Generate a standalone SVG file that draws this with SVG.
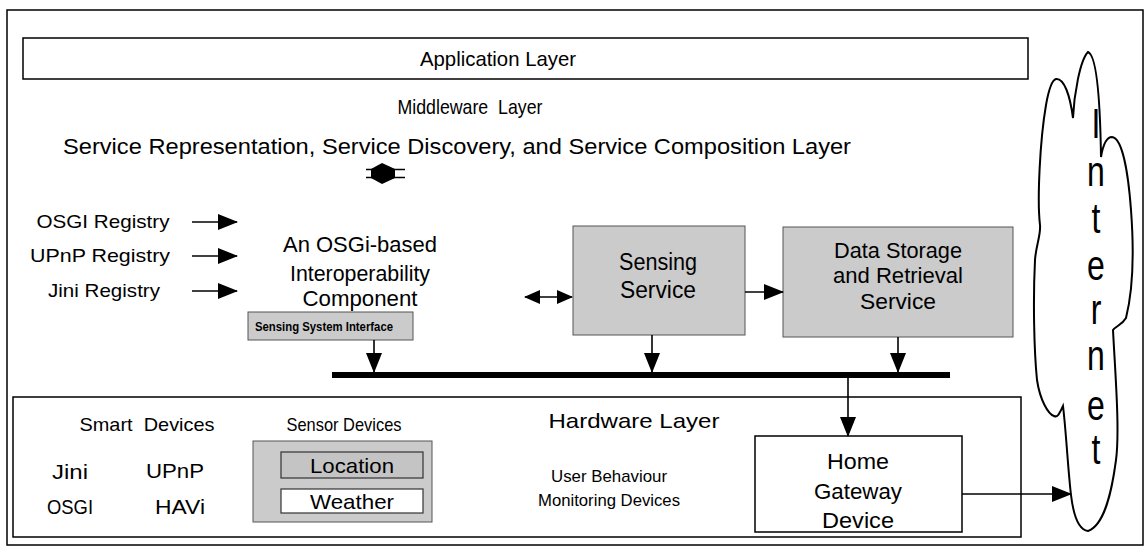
<svg xmlns="http://www.w3.org/2000/svg" width="1146" height="548" viewBox="0 0 1146 548">
<style>
text{font-family:"Liberation Sans",Arial,sans-serif;fill:#000}
.box{fill:none;stroke:#000;stroke-width:1.5}
.gray{fill:#cbcbcb;stroke:#555;stroke-width:1}
.ln{stroke:#000;stroke-width:1.6;fill:none}
.c{text-anchor:middle}
</style>
<defs>
<marker id="ah" markerWidth="20" markerHeight="16" refX="19" refY="8" orient="auto" markerUnits="userSpaceOnUse">
<path d="M0,0 L20,8 L0,16 Z" fill="#000"/>
</marker>
<marker id="ahs" markerWidth="16" markerHeight="14" refX="15" refY="7" orient="auto-start-reverse" markerUnits="userSpaceOnUse">
<path d="M0,0 L16,7 L0,14 Z" fill="#000"/>
</marker>
</defs>
<rect x="0" y="0" width="1146" height="548" fill="#fff"/>
<rect id="frame" x="7" y="10" width="1136" height="535" class="box"/>

<g id="app-layer">
<rect x="23" y="38" width="1005" height="41" class="box"/>
<text x="498" y="66" font-size="21" class="c" textLength="156" lengthAdjust="spacingAndGlyphs">Application Layer</text>
</g>

<g id="middleware-labels">
<text x="470" y="114" font-size="21" class="c" xml:space="preserve" textLength="145" lengthAdjust="spacingAndGlyphs">Middleware  Layer</text>
<text x="457" y="154" font-size="22" class="c" textLength="788" lengthAdjust="spacingAndGlyphs">Service Representation, Service Discovery, and Service Composition Layer</text>
</g>

<g id="updown-icon">
<polygon points="371,169 382,163 395,169 395,178 382,184 371,178" fill="#000"/>
<line x1="366" y1="169.5" x2="405" y2="169.5" stroke="#000" stroke-width="1.5"/>
<line x1="366" y1="177.5" x2="405" y2="177.5" stroke="#000" stroke-width="1.5"/>
</g>

<g id="registries">
<text x="103" y="228" font-size="19" class="c" textLength="133" lengthAdjust="spacingAndGlyphs">OSGI Registry</text>
<text x="100" y="262" font-size="19" class="c" textLength="140" lengthAdjust="spacingAndGlyphs">UPnP Registry</text>
<text x="104" y="297" font-size="19" class="c" textLength="112" lengthAdjust="spacingAndGlyphs">Jini Registry</text>
</g>

<g id="interop">
<text x="360" y="252" font-size="22" class="c" textLength="154" lengthAdjust="spacingAndGlyphs">An OSGi-based</text>
<text x="360" y="281" font-size="22" class="c" textLength="140" lengthAdjust="spacingAndGlyphs">Interoperability</text>
<text x="360" y="306" font-size="22" class="c" textLength="115" lengthAdjust="spacingAndGlyphs">Component</text>
</g>

<g id="ssi">
<rect x="248" y="312" width="165" height="28" class="gray"/>
<text x="324" y="331" font-size="13" font-weight="bold" class="c" textLength="138" lengthAdjust="spacingAndGlyphs">Sensing System Interface</text>
</g>

<g id="sensing-service">
<rect x="573" y="226" width="172" height="109" class="gray"/>
<text x="658" y="270" font-size="23" class="c" textLength="78" lengthAdjust="spacingAndGlyphs">Sensing</text>
<text x="658" y="298" font-size="23" class="c" textLength="76" lengthAdjust="spacingAndGlyphs">Service</text>
</g>

<g id="data-storage">
<rect x="783" y="227" width="230" height="110" class="gray"/>
<text x="898" y="258" font-size="22" class="c" textLength="128" lengthAdjust="spacingAndGlyphs">Data Storage</text>
<text x="898" y="283" font-size="22" class="c" textLength="130" lengthAdjust="spacingAndGlyphs">and Retrieval</text>
<text x="898" y="309" font-size="22" class="c" textLength="76" lengthAdjust="spacingAndGlyphs">Service</text>
</g>

<g id="bus">
<rect x="332" y="372" width="618" height="6" fill="#000"/>
</g>

<g id="hardware-layer">
<rect x="13" y="397" width="1008" height="140" class="box"/>
<text x="634" y="428" font-size="21" class="c" textLength="171" lengthAdjust="spacingAndGlyphs">Hardware Layer</text>
<text x="609" y="482" font-size="17" class="c" textLength="116" lengthAdjust="spacingAndGlyphs">User Behaviour</text>
<text x="609" y="506" font-size="17" class="c" textLength="142" lengthAdjust="spacingAndGlyphs">Monitoring Devices</text>
</g>

<g id="smart-devices">
<text x="147" y="431" font-size="19" class="c" xml:space="preserve" textLength="135" lengthAdjust="spacingAndGlyphs">Smart  Devices</text>
<text x="70" y="479" font-size="20" class="c" textLength="36" lengthAdjust="spacingAndGlyphs">Jini</text>
<text x="175" y="478" font-size="20" class="c" textLength="58" lengthAdjust="spacingAndGlyphs">UPnP</text>
<text x="70" y="514" font-size="20" class="c" textLength="46" lengthAdjust="spacingAndGlyphs">OSGI</text>
<text x="180" y="514" font-size="20" class="c" textLength="50" lengthAdjust="spacingAndGlyphs">HAVi</text>
</g>

<g id="sensor-devices">
<text x="344" y="431" font-size="19" class="c" textLength="115" lengthAdjust="spacingAndGlyphs">Sensor Devices</text>
<rect x="253" y="441" width="179" height="81" class="gray"/>
<rect x="281" y="452" width="142" height="26" fill="#c4c4c4" stroke="#333" stroke-width="1.2"/>
<text x="352" y="473" font-size="21" class="c" textLength="84" lengthAdjust="spacingAndGlyphs">Location</text>
<rect x="281" y="489" width="142" height="24" fill="#fff" stroke="#333" stroke-width="1.2"/>
<text x="352" y="509" font-size="21" class="c" textLength="84" lengthAdjust="spacingAndGlyphs">Weather</text>
</g>

<g id="gateway">
<rect x="755" y="436" width="207" height="96" class="box"/>
<text x="858" y="469" font-size="22" class="c" textLength="62" lengthAdjust="spacingAndGlyphs">Home</text>
<text x="858" y="499" font-size="22" class="c" textLength="88" lengthAdjust="spacingAndGlyphs">Gateway</text>
<text x="858" y="528" font-size="22" class="c" textLength="72" lengthAdjust="spacingAndGlyphs">Device</text>
</g>

<g id="internet">
<path d="M1088,531 C1080,530 1074,520 1071,495 C1068,470 1066,430 1063,406 C1060,412 1058,418 1054,416 C1048,414 1040,400 1037,380 C1034,350 1033,300 1035,260 C1036,245 1041,235 1040,225 C1037,200 1040,140 1046,105 C1049,88 1052,80 1056,79 C1064,78 1070,95 1073,118 C1074,95 1080,60 1088,52 C1096,55 1100,90 1101,157 C1103,145 1107,137 1112,137 C1122,138 1128,170 1131,210 C1134,250 1133,290 1126,318 C1122,325 1116,326 1113,330 C1115,370 1120,430 1116,460 C1112,490 1105,525 1088,531 Z" fill="#fff" stroke="#000" stroke-width="2"/>
<g font-size="32" class="c">
<text transform="translate(1096,138) scale(1,1.35)">I</text>
<text transform="translate(1096,186) scale(1,1.35)">n</text>
<text transform="translate(1096,233) scale(1,1.35)">t</text>
<text transform="translate(1096,280) scale(1,1.35)">e</text>
<text transform="translate(1096,324) scale(1,1.35)">r</text>
<text transform="translate(1096,370) scale(1,1.35)">n</text>
<text transform="translate(1096,420) scale(1,1.35)">e</text>
<text transform="translate(1096,464) scale(1,1.35)">t</text>
</g>
</g>

<g id="connectors">
<line x1="192" y1="222" x2="237" y2="222" class="ln" marker-end="url(#ah)"/>
<line x1="192" y1="256" x2="237" y2="256" class="ln" marker-end="url(#ah)"/>
<line x1="192" y1="291" x2="237" y2="291" class="ln" marker-end="url(#ah)"/>
<line x1="525" y1="297" x2="572" y2="297" class="ln" marker-start="url(#ahs)" marker-end="url(#ahs)"/>
<line x1="745" y1="292" x2="783" y2="292" class="ln" marker-end="url(#ah)"/>
<line x1="374" y1="340" x2="374" y2="372" class="ln" marker-end="url(#ah)"/>
<line x1="652" y1="335" x2="652" y2="372" class="ln" marker-end="url(#ah)"/>
<line x1="898" y1="337" x2="898" y2="372" class="ln" marker-end="url(#ah)"/>
<line x1="848" y1="378" x2="848" y2="436" class="ln" marker-end="url(#ah)"/>
<line x1="962" y1="494" x2="1071" y2="494" class="ln" marker-end="url(#ah)"/>
</g>
</svg>
